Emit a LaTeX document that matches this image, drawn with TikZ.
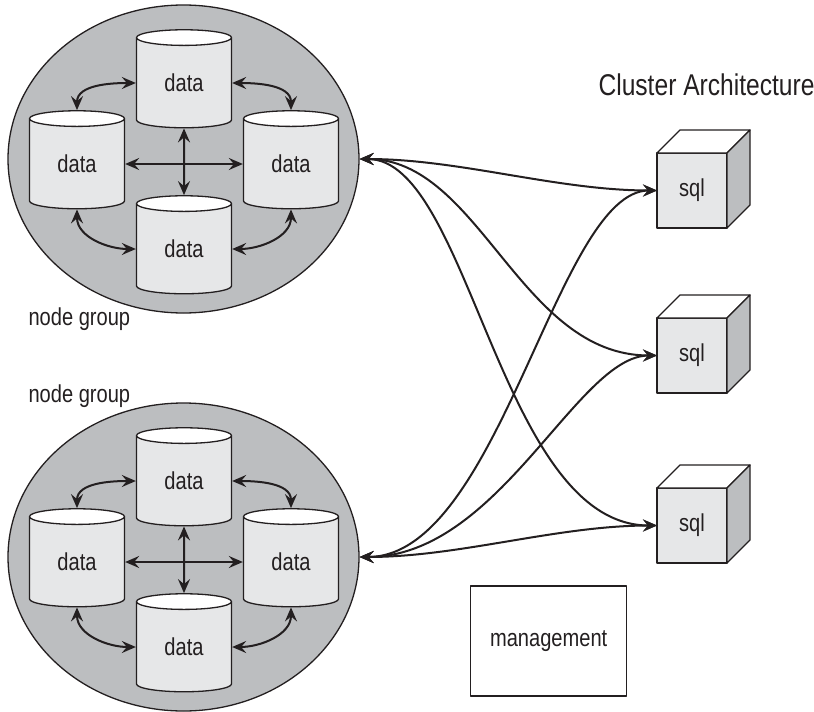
\documentclass[tikz,border=0pt]{standalone}
\usepackage{fontspec}
\setmainfont[FakeStretch=0.82]{Liberation Sans}
\usetikzlibrary{shapes.geometric,arrows.meta}

\definecolor{ink}{HTML}{231F20}
\definecolor{groupgray}{HTML}{BCBEC0}
\definecolor{facegray}{HTML}{E6E7E8}

\tikzset{
  txt/.style={text=ink, font=\fontsize{24.5}{28}\selectfont},
  group/.style={ellipse, draw=ink, line width=1.3pt, fill=groupgray,
    minimum width=351pt, minimum height=308pt},
  db/.style={cylinder, shape border rotate=90, aspect=0.4, draw=ink,
    line width=1.3pt, cylinder uses custom fill, cylinder body fill=facegray,
    cylinder end fill=white, minimum width=95pt, minimum height=98pt,
    inner sep=0pt, txt},
  server/.style={rectangle, draw=ink, line width=1.3pt, fill=facegray,
    minimum width=70pt, minimum height=75pt, outer sep=0pt, txt},
  link/.style={draw=ink, line width=2pt, <->}
}

\begin{document}
\begin{tikzpicture}[x=1pt, y=-1pt, line join=round,
    >={Stealth[length=14pt,width=12pt,inset=5pt]}]
    \useasboundingbox (0,0) rectangle (814,712);

    % ノードグループ (上と下)
    \foreach \g/\oy in {up/0, low/398} {
        \node[group] (\g) at (183.5,159+\oy) {};
        \node[db] (\g-t) at (184,83+\oy) {data};
        \node[db] (\g-l) at (77,164+\oy) {data};
        \node[db] (\g-r) at (291,164+\oy) {data};
        \node[db] (\g-b) at (184,249+\oy) {data};

        % データ間の接続
        \draw[link] (\g-t.west) to[out=180, in=90] (\g-l.north);
        \draw[link] (\g-t.east) to[out=0, in=90] (\g-r.north);
        \draw[link] (\g-l.south) to[out=-90, in=180] (\g-b.west);
        \draw[link] (\g-r.south) to[out=-90, in=0] (\g-b.east);
        \draw[link] (\g-l.east) -- (\g-r.west);
        \draw[link] (\g-t.south) -- (\g-b.north);
    }

    \node[txt, anchor=base west] (upname) at (25,325) {node group};
    \node[txt, anchor=base west] (lowname) at (25,402) {node group};

    % sql サーバ (立方体)
    \foreach \i/\y in {1/190.5, 2/355.5, 3/525.5} {
        \node[server] (sql\i) at (692,\y) {sql};
        \filldraw[fill=white, draw=ink, line width=1.3pt]
            (sql\i.north west) -- ++(23,-23) -- ++(70,0) -- (sql\i.north east) -- cycle;
        \filldraw[fill=groupgray, draw=ink, line width=1.3pt]
            (sql\i.north east) -- ++(23,-23) -- ++(0,75) -- (sql\i.south east) -- cycle;
    }

    % グループとサーバの接続
    \draw[link] (up.east) .. controls +(100,0) and +(-100,0) .. (sql1.west);
    \draw[link] (up.east) .. controls +(120,0) and +(-137,0) .. (sql2.west);
    \draw[link] (up.east) .. controls +(110,0) and +(-157,0) .. (sql3.west);
    \draw[link] (low.east) .. controls +(140,0) and +(-100,0) .. (sql1.west);
    \draw[link] (low.east) .. controls +(140,0) and +(-80,0) .. (sql2.west);
    \draw[link] (low.east) .. controls +(100,0) and +(-100,0) .. (sql3.west);

    % 見出しと管理
    \node[txt, anchor=base west, font=\fontsize{30}{34}\selectfont] (title) at (595,95) {Cluster Architecture};
    \node[draw=ink, line width=1.3pt, minimum width=156pt, minimum height=110pt, txt] (mgmt) at (548.7,641) {management};
\end{tikzpicture}
\end{document}
